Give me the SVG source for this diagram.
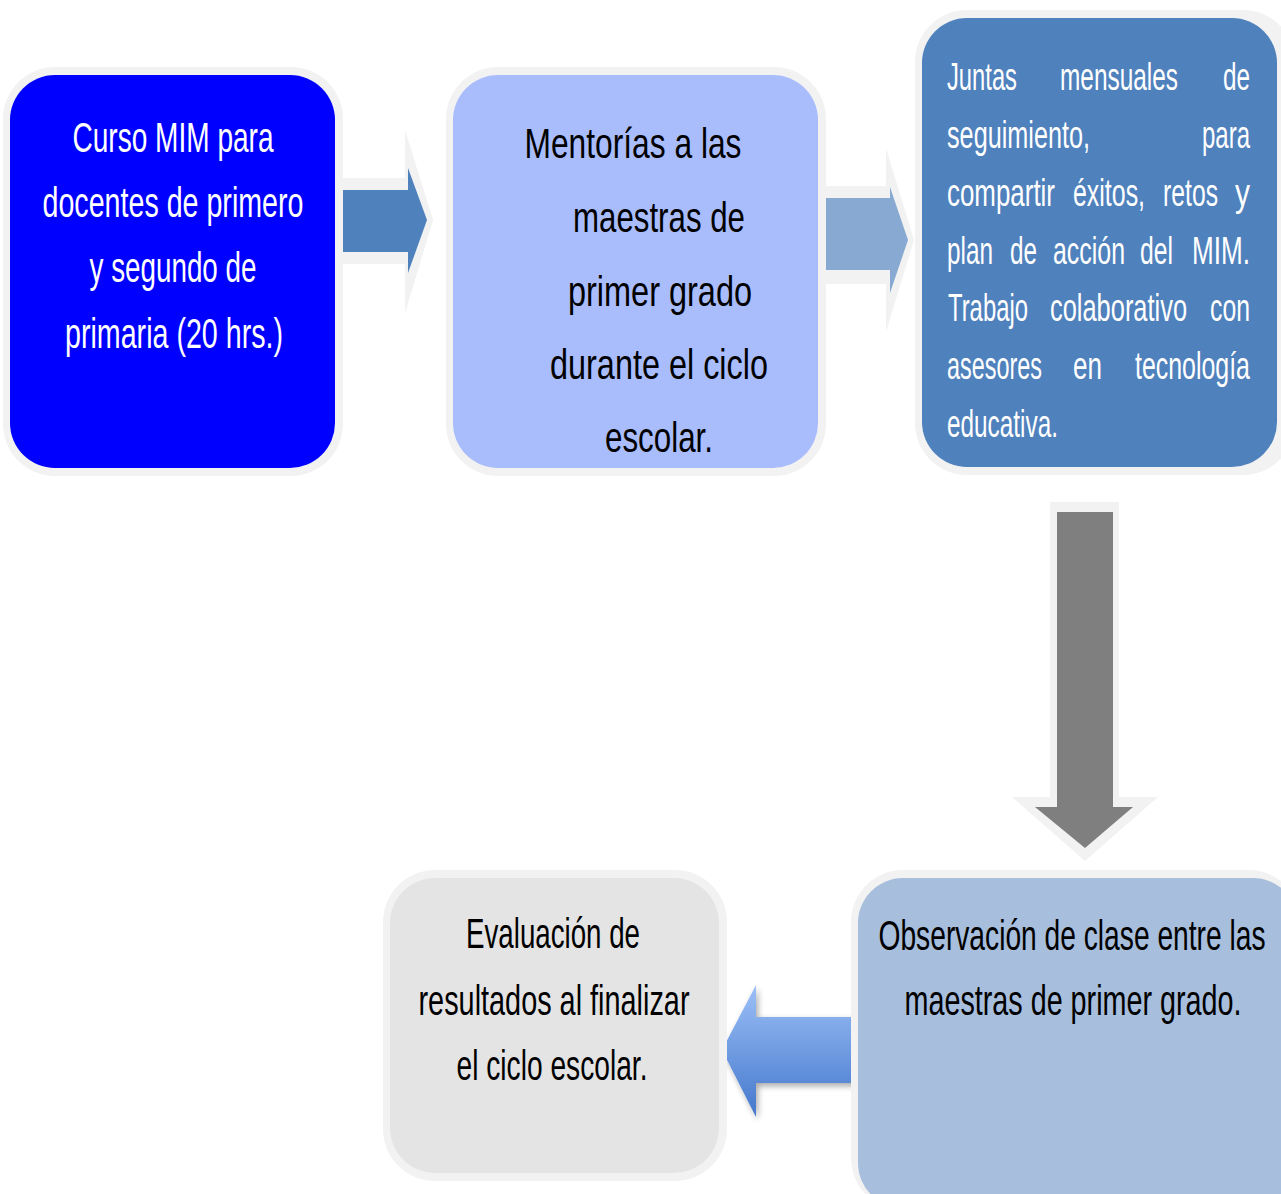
<svg xmlns="http://www.w3.org/2000/svg" width="1281" height="1194" viewBox="0 0 1281 1194">
<defs>
<style>
.t{font-family:"Liberation Sans",Arial,sans-serif;font-size:42px;text-anchor:middle}
.w{fill:#ffffff}
.k{fill:#000000}
.j{font-family:"Liberation Sans",Arial,sans-serif;font-size:39px;fill:#ffffff}
.halo{fill:#f2f2f2}
</style>
<linearGradient id="ga" x1="0" y1="0" x2="0" y2="1">
<stop offset="0" stop-color="#9cc0f7"/>
<stop offset="1" stop-color="#4477cc"/>
</linearGradient>
<filter id="sh" x="-20%" y="-20%" width="140%" height="140%">
<feGaussianBlur in="SourceAlpha" stdDeviation="3"/>
<feOffset dx="2" dy="3"/>
<feComponentTransfer><feFuncA type="linear" slope="0.35"/></feComponentTransfer>
<feMerge><feMergeNode/><feMergeNode in="SourceGraphic"/></feMerge>
</filter>
</defs>
<rect width="1281" height="1194" fill="#ffffff"/>

<g id="connectors">
<path class="halo" d="M343,178 H405 V130 L433,220 L405,313 V264 H343 Z"/>
<path fill="#4f81bd" d="M342,190 H408 V168 L427,220 L408,273 V252 H342 Z"/>
<path class="halo" d="M825,186 H886 V148 L914,240 L886,332 V284 H825 Z"/>
<path fill="#87a9d2" d="M823,198 H890 V187 L908,240 L890,293 V270 H823 Z"/>
<path class="halo" d="M1050,502 H1119 V797 H1158 L1085,861 L1012,797 H1050 Z"/>
<path fill="#7f7f7f" d="M1057,512 H1113 V807 H1133 L1085,848 L1035,807 H1057 Z"/>
<path fill="url(#ga)" filter="url(#sh)" d="M856,1017 H756 V985 L722,1050 L756,1117 V1083 H856 Z"/>
</g>

<g id="node1">
<rect class="halo" x="3" y="67" width="340" height="409" rx="52"/>
<rect x="10" y="75" width="325" height="393" rx="45" fill="#0000ff"/>
<text class="t w" transform="translate(173,152) scale(0.68,1)" textLength="295.6" lengthAdjust="spacingAndGlyphs">Curso MIM para</text>
<text class="t w" transform="translate(173,217) scale(0.68,1)" textLength="383.8" lengthAdjust="spacingAndGlyphs">docentes de primero</text>
<text class="t w" transform="translate(173,282) scale(0.68,1)" textLength="245.6" lengthAdjust="spacingAndGlyphs">y segundo de</text>
<text class="t w" transform="translate(174,348) scale(0.68,1)" textLength="320.6" lengthAdjust="spacingAndGlyphs">primaria (20 hrs.)</text>
</g>

<g id="node2">
<rect class="halo" x="446" y="67" width="380" height="409" rx="52"/>
<rect x="453" y="75" width="365" height="393" rx="45" fill="#a9bdfc"/>
<text class="t k" transform="translate(633,158) scale(0.68,1)" textLength="319.1" lengthAdjust="spacingAndGlyphs">Mentorías a las</text>
<text class="t k" transform="translate(659,232) scale(0.68,1)" textLength="252.9" lengthAdjust="spacingAndGlyphs">maestras de</text>
<text class="t k" transform="translate(660,306) scale(0.68,1)" textLength="270.6" lengthAdjust="spacingAndGlyphs">primer grado</text>
<text class="t k" transform="translate(659,379) scale(0.68,1)" textLength="320.6" lengthAdjust="spacingAndGlyphs">durante el ciclo</text>
<text class="t k" transform="translate(659,452) scale(0.68,1)" textLength="158.8" lengthAdjust="spacingAndGlyphs">escolar.</text>
</g>

<g id="node3">
<rect class="halo" x="915" y="10" width="380" height="465" rx="52"/>
<rect x="922" y="18" width="355" height="449" rx="45" fill="#4f81bd"/>
<text class="j" transform="translate(947,90) scale(0.68,1)" textLength="102.9" lengthAdjust="spacingAndGlyphs">Juntas</text>
<text class="j" transform="translate(1060,90) scale(0.68,1)" textLength="173.5" lengthAdjust="spacingAndGlyphs">mensuales</text>
<text class="j" transform="translate(1223,90) scale(0.68,1)" textLength="39.7" lengthAdjust="spacingAndGlyphs">de</text>
<text class="j" transform="translate(947,148) scale(0.68,1)" textLength="210.3" lengthAdjust="spacingAndGlyphs">seguimiento,</text>
<text class="j" transform="translate(1202,148) scale(0.68,1)" textLength="70.6" lengthAdjust="spacingAndGlyphs">para</text>
<text class="j" transform="translate(947,206) scale(0.68,1)" textLength="158.8" lengthAdjust="spacingAndGlyphs">compartir</text>
<text class="j" transform="translate(1073,206) scale(0.68,1)" textLength="105.9" lengthAdjust="spacingAndGlyphs">éxitos,</text>
<text class="j" transform="translate(1163,206) scale(0.68,1)" textLength="80.9" lengthAdjust="spacingAndGlyphs">retos</text>
<text class="j" transform="translate(1235,206) scale(0.68,1)" textLength="22.1" lengthAdjust="spacingAndGlyphs">y</text>
<text class="j" transform="translate(947,264) scale(0.68,1)" textLength="67.6" lengthAdjust="spacingAndGlyphs">plan</text>
<text class="j" transform="translate(1010,264) scale(0.68,1)" textLength="39.7" lengthAdjust="spacingAndGlyphs">de</text>
<text class="j" transform="translate(1053,264) scale(0.68,1)" textLength="105.9" lengthAdjust="spacingAndGlyphs">acción</text>
<text class="j" transform="translate(1140,264) scale(0.68,1)" textLength="48.5" lengthAdjust="spacingAndGlyphs">del</text>
<text class="j" transform="translate(1192,264) scale(0.68,1)" textLength="85.3" lengthAdjust="spacingAndGlyphs">MIM.</text>
<text class="j" transform="translate(948,321) scale(0.68,1)" textLength="117.6" lengthAdjust="spacingAndGlyphs">Trabajo</text>
<text class="j" transform="translate(1050,321) scale(0.68,1)" textLength="201.5" lengthAdjust="spacingAndGlyphs">colaborativo</text>
<text class="j" transform="translate(1210,321) scale(0.68,1)" textLength="58.8" lengthAdjust="spacingAndGlyphs">con</text>
<text class="j" transform="translate(947,379) scale(0.68,1)" textLength="139.7" lengthAdjust="spacingAndGlyphs">asesores</text>
<text class="j" transform="translate(1073,379) scale(0.68,1)" textLength="42.6" lengthAdjust="spacingAndGlyphs">en</text>
<text class="j" transform="translate(1135,379) scale(0.68,1)" textLength="169.1" lengthAdjust="spacingAndGlyphs">tecnología</text>
<text class="j" transform="translate(947,437) scale(0.68,1)" textLength="163.2" lengthAdjust="spacingAndGlyphs">educativa.</text>
</g>

<g id="node4">
<rect class="halo" x="851" y="870" width="450" height="340" rx="52"/>
<rect x="858" y="878" width="440" height="330" rx="45" fill="#a7bedc"/>
<text class="t k" transform="translate(1072,950) scale(0.68,1)" font-size="44" textLength="569.1" lengthAdjust="spacingAndGlyphs">Observación de clase entre las</text>
<text class="t k" transform="translate(1073,1015) scale(0.68,1)" font-size="44" textLength="495.6" lengthAdjust="spacingAndGlyphs">maestras de primer grado.</text>
</g>

<g id="node5">
<rect class="halo" x="383" y="870" width="344" height="311" rx="52"/>
<rect x="390" y="878" width="329" height="295" rx="45" fill="#e4e4e4"/>
<text class="t k" transform="translate(553,948) scale(0.68,1)" font-size="43" textLength="255.9" lengthAdjust="spacingAndGlyphs">Evaluación de</text>
<text class="t k" transform="translate(554,1015) scale(0.68,1)" font-size="43" textLength="398.5" lengthAdjust="spacingAndGlyphs">resultados al finalizar</text>
<text class="t k" transform="translate(552,1080) scale(0.68,1)" font-size="43" textLength="280.9" lengthAdjust="spacingAndGlyphs">el ciclo escolar.</text>
</g>
</svg>
